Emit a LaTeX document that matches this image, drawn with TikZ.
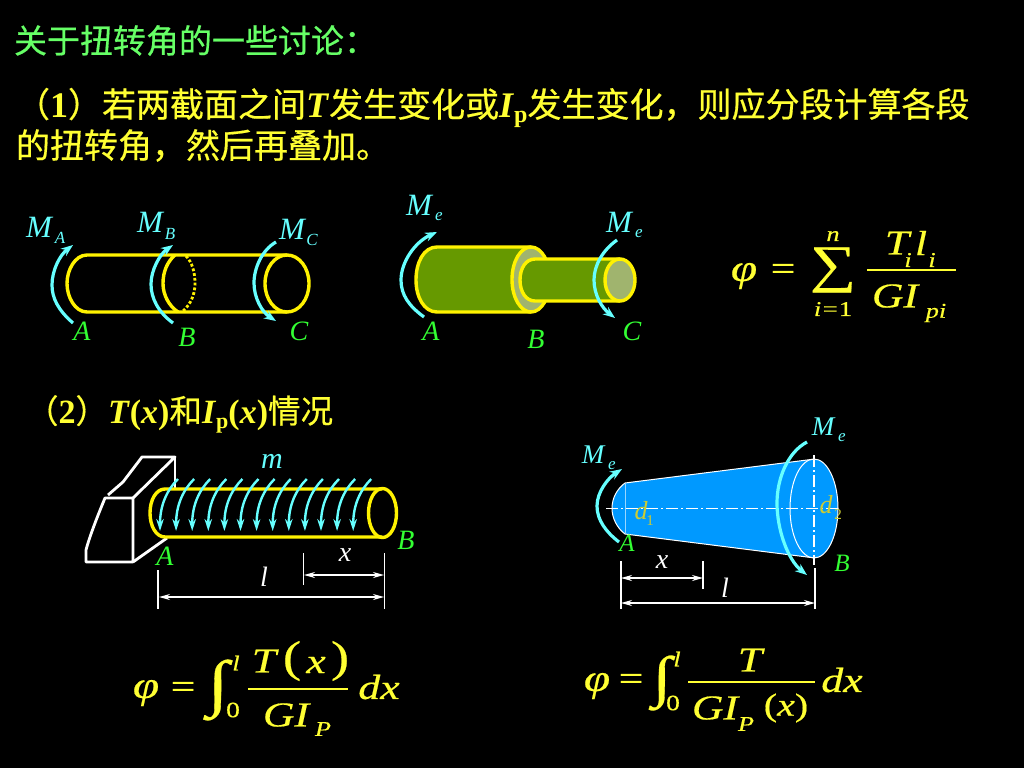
\documentclass[tikz,border=0pt]{standalone}
\usepackage{fontspec}
\setmainfont{Liberation Serif}
\newfontfamily\cjk[FakeBold=0.5]{Noto Sans CJK SC}
\newfontfamily\eqf[FakeStretch=1.25,FakeBold=0.5]{Liberation Serif}
\usetikzlibrary{arrows.meta}
\definecolor{txtyellow}{RGB}{255,255,51}
\definecolor{titlegreen}{RGB}{102,255,102}
\definecolor{momcyan}{RGB}{102,255,255}
\definecolor{ptgreen}{RGB}{51,255,51}
\definecolor{barolive}{RGB}{102,153,0}
\definecolor{endgrey}{RGB}{160,180,110}
\definecolor{coneblue}{RGB}{0,153,255}
\definecolor{dimyellow}{RGB}{204,204,51}
\newcommand{\zh}[1]{{\cjk\mdseries\fontsize{34}{36}\selectfont #1}}
\newcommand{\zhs}[1]{{\cjk\mdseries\fontsize{32.5}{36}\selectfont #1}}
\tikzset{
  every node/.style={inner sep=0pt,outer sep=0pt},
  line/.style={anchor=base west,text=txtyellow,font=\fontsize{36}{38}\selectfont\bfseries},
  ptlab/.style={text=ptgreen,font=\fontsize{28}{28}\selectfont\itshape},
  momlab/.style={text=momcyan,font=\fontsize{31}{31}\selectfont\itshape},
  momsub/.style={text=momcyan,font=\fontsize{17}{17}\selectfont\itshape},
  whitelab/.style={text=white,font=\fontsize{28}{28}\selectfont\itshape},
  eqlab/.style={text=txtyellow,font=\fontsize{35}{35}\selectfont\eqf\itshape},
  eqrm/.style={text=txtyellow,font=\fontsize{35}{35}\selectfont\eqf},
  eqsub/.style={text=txtyellow,font=\fontsize{21}{21}\selectfont\eqf\itshape},
  moment/.style={draw=momcyan,line width=3.2pt,-{Stealth[length=12pt,width=9pt]}},
  distload/.style={draw=momcyan,line width=2.4pt,-{Stealth[length=12pt,width=7.5pt]}},
  shaft/.style={draw=yellow,line width=3.4pt},
  dimline/.style={draw=white,line width=1.5pt},
  dimarrow/.style={draw=white,line width=1.4pt,{Stealth[length=11pt,width=6pt]}-{Stealth[length=11pt,width=6pt]}},
  eqbar/.style={draw=txtyellow,line width=1.5pt},
  axisline/.style={draw=white,line width=1.1pt,dash pattern=on 12pt off 3pt on 2pt off 3pt}
}
\begin{document}
\begin{tikzpicture}[x=1pt,y=-1pt]
\useasboundingbox[fill=black] (0,0) rectangle (1024,768);

% text lines
\node (title) [line,text=titlegreen,font=\fontsize{33}{36}\selectfont] at (14,53) {{\cjk 关于扭转角的一些讨论：}};
\node (line1) [line] at (16,117) {\zh{（}1\zh{）若两截面之间}\textit{T}\zh{发生变化或}\textit{I}\raisebox{-5pt}{\fontsize{24}{24}\selectfont p}\zh{发生变化，则应分段计算各段}};
\node (line2) [line] at (16,158) {\zh{的扭转角，然后再叠加。}};
\node (line3) [line,font=\fontsize{34}{36}\selectfont\bfseries] at (26,423) {\zhs{（}2\zhs{）}\textit{T}(\textit{x})\zhs{和}\textit{I}\raisebox{-5pt}{\fontsize{22}{22}\selectfont p}(\textit{x})\zhs{情况}};

% first shaft
\draw[shaft] (287,255) -- (87,255) .. controls (75,255) and (67,270) .. (67,283.5) .. controls (67,297) and (75,312) .. (87,312) -- (287,312);
\draw[shaft] (287,283.5) ellipse [x radius=22,y radius=28.5];
\draw[shaft] (175,255) .. controls (167,262) and (163,272) .. (163,283.5) .. controls (163,295) and (169,306) .. (178,312);
\draw[shaft,line width=2.8pt,dotted] (186,256) .. controls (192,262) and (195,272) .. (195,283.5) .. controls (195,294) and (191,304) .. (183,311);
\draw[moment] (73,323) .. controls (58,310) and (52,298) .. (52,285) .. controls (52,270) and (60,255) .. (73,245);
\draw[moment] (173,323) .. controls (158,312) and (151,298) .. (151,284) .. controls (151,270) and (160,254) .. (173,245);
\draw[moment] (276,242) .. controls (262,250) and (254,268) .. (254,283) .. controls (254,298) and (262,312) .. (276,321);
\node (MA) [momlab] at (39,227) {M};
\node (MAs) [momsub] at (60,238) {A};
\node (MB) [momlab] at (150,222) {M};
\node (MBs) [momsub] at (170,234) {B};
\node (MC) [momlab] at (292,229) {M};
\node (MCs) [momsub] at (312,240) {C};
\node (A1) [ptlab] at (82,331) {A};
\node (B1) [ptlab] at (187,337) {B};
\node (C1) [ptlab] at (299,331) {C};

% stepped shaft
\filldraw[shaft,fill=barolive] (531,247) -- (437,247) .. controls (424,247) and (416,262) .. (416,280) .. controls (416,297) and (424,312) .. (437,312) -- (531,312);
\filldraw[shaft,fill=endgrey] (531,279.5) ellipse [x radius=19,y radius=32.5];
\filldraw[shaft,fill=barolive] (620,259) -- (535,259) .. controls (526,259) and (520,268) .. (520,280) .. controls (520,292) and (526,301) .. (535,301) -- (620,301);
\filldraw[shaft,fill=endgrey] (620,280) ellipse [x radius=15,y radius=21];
\draw[moment] (424,317) .. controls (409,306) and (401,295) .. (401,280) .. controls (401,262) and (415,242) .. (437,232);
\draw[moment] (617,240) .. controls (603,250) and (594,265) .. (594,280) .. controls (594,295) and (602,308) .. (615,318);
\node (Me1) [momlab] at (419,205) {M};
\node (Me1s) [momsub] at (439,217) {e};
\node (Me2) [momlab] at (619,222) {M};
\node (Me2s) [momsub] at (639,234) {e};
\node (A2) [ptlab] at (431,331) {A};
\node (B2) [ptlab] at (536,339) {B};
\node (C2) [ptlab] at (632,331) {C};

% sum formula
\node (phi1) [eqlab,font=\fontsize{38}{38}\selectfont\eqf\itshape] at (744,276) {φ};
\node (eq1) [eqrm] at (783,272) {=};
\node (sum1) [eqrm,font=\fontsize{52}{52}\selectfont\eqf] at (833,270) {∑};
\node (sumtop) [eqsub] at (833,236) {n};
\node (sumbot) [eqsub] at (833,309) {\textit{i}=\textup{1}};
\node (Ti) [eqlab] at (897,243) {T};
\node (Tis) [eqsub] at (908,260) {i};
\node (li) [eqlab] at (921,243) {l};
\node (lis) [eqsub] at (932,260) {i};
\coordinate (bar1l) at (867,270);
\coordinate (bar1r) at (956,270);
\draw[eqbar] (bar1l) -- (bar1r);
\node (GI1) [eqlab] at (895,296) {GI};
\node (GI1s) [eqsub] at (936,313) {pi};

% cantilever
\draw[white,line width=2.8pt,line join=round] (133,498) -- (105,498) .. controls (98,515) and (90,535) .. (86,550) -- (86,562) -- (133,562) -- cycle;
\draw[white,line width=2.8pt,line join=round] (108,495) -- (123,482) -- (142,457) -- (175,457) -- (133,498);
\draw[white,line width=2.8pt] (175,457) -- (175,489);
\draw[white,line width=2.8pt] (133,562) -- (167,538);
\draw[shaft] (382,489) -- (165,489) .. controls (156,489) and (150,500) .. (150,513) .. controls (150,526) and (156,537) .. (165,537) -- (382,537);
\draw[shaft] (382.5,513) ellipse [x radius=14,y radius=24.5];
\foreach \i in {0,...,12}{
  \draw[distload] ({178+16.1*\i},479) .. controls ({167+16.1*\i},490) and ({160+16.1*\i},505) .. ({160+16.1*\i},531);
}
\node (m) [text=momcyan,font=\fontsize{30}{30}\selectfont\itshape] at (272,461) {m};
\node (A3) [ptlab] at (165,556) {A};
\node (B3) [ptlab] at (406,540) {B};
\node (x3) [whitelab] at (345,555) {x};
\node (l3) [whitelab] at (264,577) {l};
\draw[dimline] (158,570) -- (158,609);
\draw[dimline] (384.5,553) -- (384.5,609);
\draw[dimline] (303.5,553) -- (303.5,585);
\draw[dimarrow] (304,575) -- (384,575);
\draw[dimarrow] (159,597) -- (384,597);

% integral 1
\node (phi2) [eqlab,font=\fontsize{38}{38}\selectfont\eqf\itshape] at (146,693) {φ};
\node (eq2) [eqrm] at (183,690) {=};
\node (int2) [eqrm,font=\fontsize{62}{62}\selectfont\eqf] at (218,690) {∫};
\node (lim2t) [eqsub] at (236,663) {l};
\node (lim2b) [eqsub,font=\fontsize{22}{22}\selectfont\eqf] at (233,710) {0};
\node (T2) [eqlab] at (264,661) {T};
\node (lp2) [eqrm,font=\fontsize{44}{44}\selectfont\eqf] at (292,661) {(};
\node (x2) [eqlab] at (316,665) {x};
\node (rp2) [eqrm,font=\fontsize{44}{44}\selectfont\eqf] at (340,661) {)};
\coordinate (bar2l) at (248,689);
\coordinate (bar2r) at (348,689);
\draw[eqbar] (bar2l) -- (bar2r);
\node (GI2) [eqlab] at (286,715) {GI};
\node (GI2s) [eqsub] at (323,729) {P};
\node (dx2) [eqlab] at (379,687) {dx};

% cone
\path[fill=coneblue] (625,483) -- (815,459) -- (815,558) -- (625,534) .. controls (617,528) and (612,518) .. (612,508.5) .. controls (612,498) and (617,489) .. (625,483) -- cycle;
\fill[coneblue] (814,508.5) ellipse [x radius=24,y radius=49.5];
\draw[white,line width=1pt] (815,459) -- (625,483) .. controls (617,489) and (612,498) .. (612,508.5) .. controls (612,518) and (617,528) .. (625,534) -- (815,558);
\draw[white,line width=1pt] (814,508.5) ellipse [x radius=24,y radius=49.5];
\draw[white!60!coneblue,line width=.8pt] (625,483) -- (625,534);
\coordinate (axl) at (606,508.5);
\coordinate (axr) at (838,508.5);
\coordinate (axt) at (814,455);
\coordinate (axb) at (814,565);
\draw[axisline] (axl) -- (axr);
\draw[axisline] (axt) -- (axb);
\draw[moment] (619,542) .. controls (606,532) and (597,520) .. (597,506) .. controls (597,492) and (608,478) .. (622,469);
\draw[moment] (807,442) .. controls (788,452) and (777,478) .. (777,503) .. controls (777,530) and (788,560) .. (807,575);
\node (Me3) [momlab,font=\fontsize{27}{27}\selectfont\itshape] at (593,455) {M};
\node (Me3s) [momsub] at (612,466) {e};
\node (Me4) [momlab,font=\fontsize{27}{27}\selectfont\itshape] at (823,427) {M};
\node (Me4s) [momsub] at (842,438) {e};
\node (d1) [text=dimyellow,font=\fontsize{26}{26}\selectfont\itshape] at (641,511) {d};
\node (d1s) [text=dimyellow,font=\fontsize{15}{15}\selectfont] at (650,521) {1};
\node (d2) [text=dimyellow,font=\fontsize{26}{26}\selectfont\itshape] at (826,505) {d};
\node (d2s) [text=dimyellow,font=\fontsize{15}{15}\selectfont] at (838,515) {2};
\node (A4) [ptlab,font=\fontsize{25}{25}\selectfont\itshape] at (627,543) {A};
\node (B4) [ptlab,font=\fontsize{25}{25}\selectfont\itshape] at (842,563) {B};
\node (x4) [whitelab] at (662,562) {x};
\node (l4) [whitelab] at (725,588) {l};
\draw[dimline] (621,561) -- (621,609);
\draw[dimline] (703,561) -- (703,589);
\draw[dimline] (815,568) -- (815,609);
\draw[dimarrow] (621,578) -- (703,578);
\draw[dimarrow] (621,603) -- (815,603);

% integral 2
\node (phi3) [eqlab,font=\fontsize{38}{38}\selectfont\eqf\itshape] at (597,686) {φ};
\node (eq3) [eqrm] at (631,682) {=};
\node (int3) [eqrm,font=\fontsize{56}{56}\selectfont\eqf] at (662,683) {∫};
\node (lim3t) [eqsub] at (677,659) {l};
\node (lim3b) [eqsub,font=\fontsize{22}{22}\selectfont\eqf] at (673,703) {0};
\node (T3) [eqlab] at (750,660) {T};
\coordinate (bar3l) at (688,682);
\coordinate (bar3r) at (815,682);
\draw[eqbar] (bar3l) -- (bar3r);
\node (GI3) [eqlab] at (715,708) {GI};
\node (GI3s) [eqsub] at (746,724) {P};
\node (x3p) [eqrm,font=\fontsize{32}{32}\selectfont\eqf] at (786,708) {(\textit{x})};
\node (dx3) [eqlab] at (842,680) {dx};
\end{tikzpicture}
\end{document}
